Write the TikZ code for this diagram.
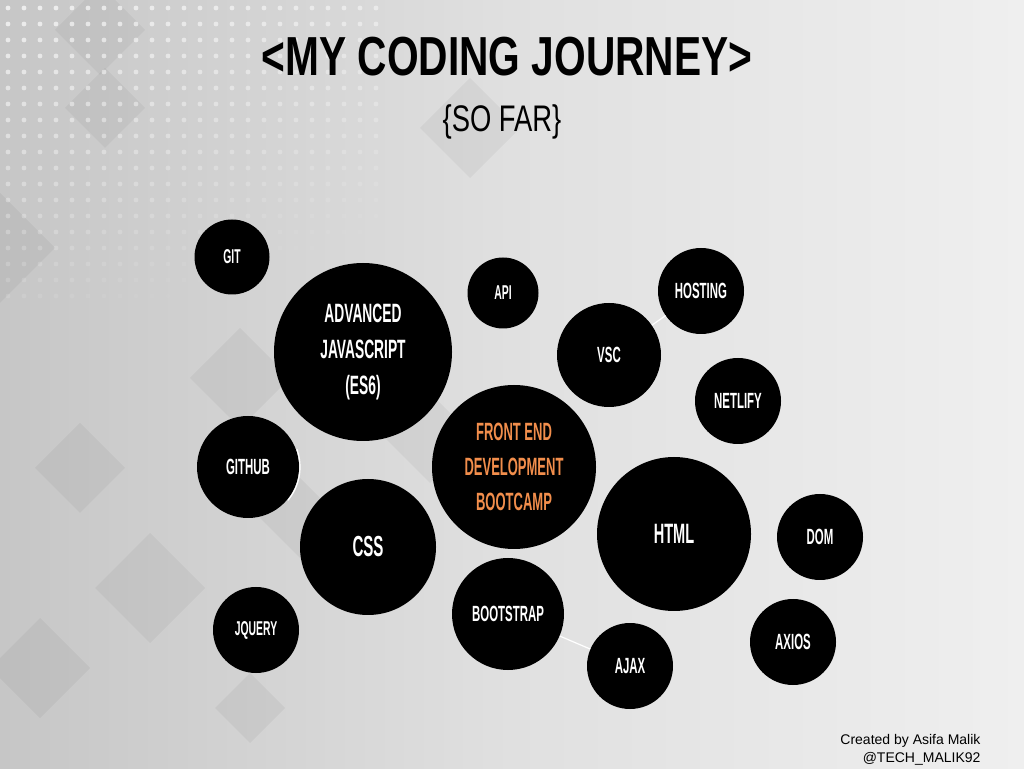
\documentclass[tikz,border=0pt]{standalone}
\usepackage{fontspec}
\usepackage{tikz}
\usetikzlibrary{positioning,calc}

\newfontfamily\bebas[FakeStretch=0.52]{Liberation Sans}
\newfontfamily\titlefont[FakeStretch=0.74]{Liberation Sans}
\newfontfamily\sofarfont[FakeStretch=0.74]{Liberation Sans}
\newfontfamily\creditfont{Liberation Sans}

\definecolor{bgdark}{HTML}{C6C6C6}
\definecolor{bgmid}{HTML}{E0E0E0}
\definecolor{bglight}{HTML}{EFEFEF}
\definecolor{camporange}{HTML}{F28E4C}

\begin{document}
\begin{tikzpicture}[
  x=1pt, y=1pt,
  bubble/.style={
    circle, fill=black, inner sep=0pt, text=white,
    align=center, font=\bebas\bfseries\fontsize{22}{26}\selectfont
  },
  small/.style={minimum size=86pt},
  link/.style={white, line width=1.2pt},
  patch/.style={fill=black, opacity=0.045}
]
\useasboundingbox (0,0) rectangle (1024,768);

% ---- Background ----
\shade[left color=bgdark, right color=bglight, middle color=bgmid] (0,0) rectangle (1024,768);
\foreach \cx/\cy/\s in {100/738/45, 105/660/40, 0/520/55, 240/390/50, 80/300/45,
                        300/250/40, 150/180/55, 430/330/45, 330/460/40, 470/640/50,
                        250/60/35, 40/100/50} {
  \fill[patch] (\cx-\s,\cy) -- (\cx,\cy+\s) -- (\cx+\s,\cy) -- (\cx,\cy-\s) -- cycle;
}
% dot grid, top left
\foreach \i in {0,...,23} {
  \foreach \j in {0,...,18} {
    \pgfmathsetmacro{\op}{max(0, 0.7 - 0.032*\j - 0.01*\i)}
    \fill[white, opacity=\op] (8+16*\i, 760-16*\j) circle (2.4);
  }
}

% ---- Title ----
\node[anchor=base, font=\titlefont\bfseries\fontsize{55}{60}\selectfont] (title)
  at (507,692) {<MY CODING JOURNEY>};
\node[anchor=base, font=\sofarfont\fontsize{37}{42}\selectfont] (sofar)
  at (502,636) {\{SO FAR\}};

% ---- Bubbles ----
\node[bubble, minimum size=75pt, font=\bebas\bfseries\fontsize{20}{24}\selectfont] (git) at (232,511) {GIT};
\node[bubble, minimum size=178pt, font=\bebas\bfseries\fontsize{26.5}{36}\selectfont] (advjs) at (363,416)
  {ADVANCED\\JAVASCRIPT\\(ES6)};
\node[bubble, minimum size=71pt, font=\bebas\bfseries\fontsize{20}{24}\selectfont] (api) at (503,475) {API};
\node[bubble, small] (hosting) at (701,477) {HOSTING};
\node[bubble, minimum size=104pt] (vsc) at (609,413) {VSC};
\node[bubble, small] (netlify) at (738,367) {NETLIFY};
\node[bubble, minimum size=164pt, text=camporange, font=\bebas\bfseries\fontsize{25}{35}\selectfont] (bootcamp)
  at (514,301) {FRONT END\\DEVELOPMENT\\BOOTCAMP};
\node[bubble, minimum size=154pt, font=\bebas\bfseries\fontsize{28}{32}\selectfont] (html) at (674,234) {HTML};
\node[bubble, small] (dom) at (820,231) {DOM};
\node[bubble, small] (axios) at (793,126) {AXIOS};
\node[bubble, minimum size=102pt] (github) at (248,301) {GITHUB};
\node[bubble, minimum size=136pt, font=\bebas\bfseries\fontsize{29}{33}\selectfont] (css) at (368,221) {CSS};
\node[bubble, small, font=\bebas\bfseries\fontsize{20}{24}\selectfont] (jquery) at (256,138) {JQUERY};
\node[bubble, minimum size=112pt] (bootstrap) at (508,154) {BOOTSTRAP};
\node[bubble, small] (ajax) at (630,102) {AJAX};

% ---- Links ----
\draw[link] (vsc) -- (hosting);
\draw[link] (bootstrap) -- (ajax);
\draw[link] (github.center) ++(20:52) arc[start angle=20, end angle=-40, radius=52];

% ---- Credit ----
\node[anchor=base east, font=\creditfont\fontsize{14}{16}\selectfont] (credit1)
  at (984,24) {Created by Asifa Malik};
\node[anchor=base east, font=\creditfont\fontsize{14}{16}\selectfont] (credit2)
  at (984,6) {@TECH\_MALIK92};
\end{tikzpicture}
\end{document}
